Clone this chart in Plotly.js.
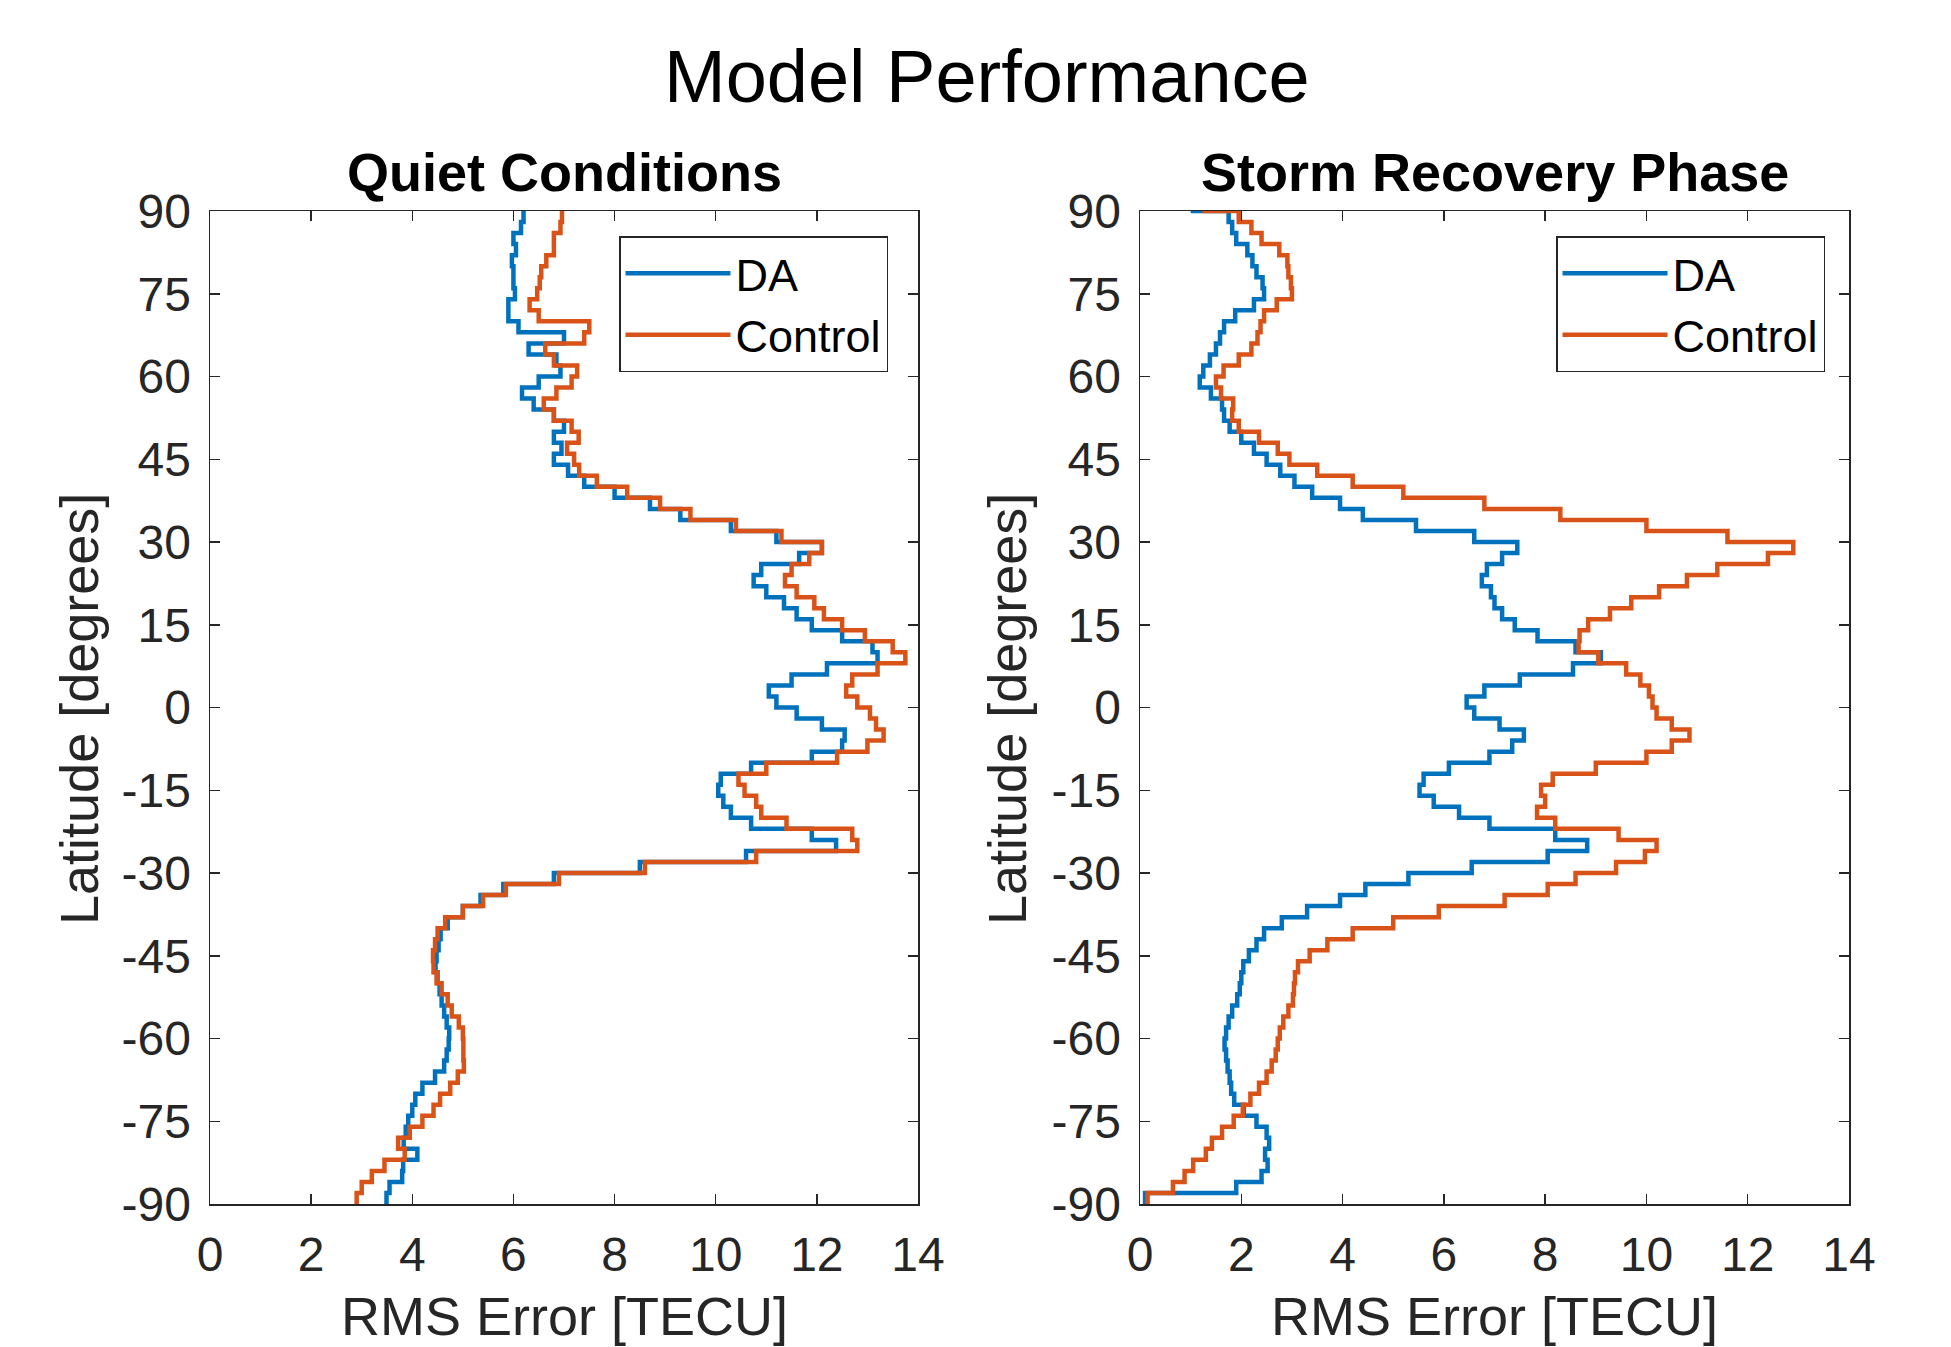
<!DOCTYPE html>
<html><head><meta charset="utf-8">
<script src="https://cdn.plot.ly/plotly-3.0.1.min.js"></script>
<style>html,body{margin:0;padding:0;background:#fff}</style>
</head><body>
<div id="chart" style="width:1951px;height:1347px"></div>
<script>
// Latitude grid (degrees), top edge first; each value holds over the 2-degree bin below the previous latitude
const latitude = [90, 88, 86, 84, 82, 80, 78, 76, 74, 72, 70, 68, 66, 64, 62, 60, 58, 56, 54, 52,
  50, 48, 46, 44, 42, 40, 38, 36, 34, 32, 30, 28, 26, 24, 22, 20, 18, 16, 14, 12,
  10, 8, 6, 4, 2, 0, -2, -4, -6, -8, -10, -12, -14, -16, -18, -20, -22, -24, -26, -28,
  -30, -32, -34, -36, -38, -40, -42, -44, -46, -48, -50, -52, -54, -56, -58, -60, -62, -64, -66, -68,
  -70, -72, -74, -76, -78, -80, -82, -84, -86, -88, -90];

// Quiet Conditions: RMS error [TECU]
const quietDA = [6.23,
  6.2, 6.15, 6.0, 6.05, 5.97, 6.0, 6.0, 6.03, 5.9, 5.9,
  6.1, 7.0, 6.3, 6.85, 6.93, 6.5, 6.17, 6.4, 6.8, 7.0,
  6.8, 6.95, 6.8, 7.08, 7.4, 8.0, 8.7, 9.3, 10.3, 11.2,
  12.1, 11.65, 10.9, 10.75, 11.0, 11.35, 11.6, 11.9, 12.5, 13.1,
  13.2, 12.2, 11.5, 11.05, 11.2, 11.6, 12.1, 12.55, 12.5, 11.9,
  10.7, 10.1, 10.05, 10.15, 10.3, 10.7, 11.9, 12.38, 10.6, 8.5,
  6.8, 5.8, 5.35, 5.0, 4.7, 4.56, 4.52, 4.48, 4.46, 4.5,
  4.54, 4.58, 4.63, 4.68, 4.73, 4.72, 4.68, 4.63, 4.45, 4.2,
  4.06, 4.0, 3.92, 3.87, 3.83, 4.1, 3.82, 3.8, 3.55, 3.49];
const quietControl = [6.96,
  6.96, 6.93, 6.8, 6.8, 6.65, 6.55, 6.52, 6.47, 6.32, 6.5,
  7.5, 7.4, 6.63, 6.8, 7.26, 7.15, 6.85, 6.6, 6.8, 7.15,
  7.29, 7.06, 7.2, 7.3, 7.65, 8.25, 8.9, 9.5, 10.4, 11.3,
  12.1, 11.85, 11.5, 11.37, 11.6, 11.95, 12.14, 12.5, 12.95, 13.5,
  13.75, 13.2, 12.7, 12.58, 12.8, 13.05, 13.17, 13.32, 13.0, 12.4,
  11.0, 10.45, 10.57, 10.8, 10.9, 11.4, 12.7, 12.8, 10.8, 8.6,
  6.9, 5.85, 5.4, 5.0, 4.65, 4.5, 4.45, 4.41, 4.42, 4.48,
  4.58, 4.7, 4.78, 4.92, 5.0, 5.01, 5.01, 5.02, 4.9, 4.75,
  4.55, 4.42, 4.2, 3.95, 3.72, 3.85, 3.45, 3.2, 3.0, 2.9];

// Storm Recovery Phase: RMS error [TECU]
const stormDA = [1.0,
  1.75, 1.82, 1.9, 2.12, 2.22, 2.3, 2.42, 2.45, 2.25, 1.88,
  1.66, 1.58, 1.5, 1.38, 1.25, 1.18, 1.4, 1.62, 1.66, 1.77,
  2.0, 2.25, 2.5, 2.77, 3.05, 3.4, 3.95, 4.4, 5.45, 6.6,
  7.45, 7.15, 6.85, 6.75, 6.93, 7.0, 7.15, 7.4, 7.85, 8.6,
  9.1, 8.55, 7.5, 6.8, 6.45, 6.6, 7.1, 7.58, 7.35, 6.9,
  6.1, 5.6, 5.52, 5.8, 6.3, 6.9, 8.2, 8.83, 8.05, 6.55,
  5.3, 4.45, 3.95, 3.3, 2.8, 2.45, 2.3, 2.15, 2.04, 2.0,
  1.97, 1.92, 1.82, 1.75, 1.7, 1.67, 1.7, 1.73, 1.77, 1.8,
  1.86, 2.05, 2.3, 2.5, 2.55, 2.47, 2.52, 2.4, 1.9, 0.1];
const stormControl = [1.23,
  1.95, 2.2, 2.4, 2.75, 2.91, 2.93, 2.98, 3.0, 2.7, 2.45,
  2.38, 2.32, 2.2, 1.95, 1.65, 1.5, 1.6, 1.84, 1.82, 1.95,
  2.35, 2.72, 2.95, 3.5, 4.2, 5.2, 6.8, 8.3, 10.0, 11.6,
  12.9, 12.4, 11.4, 10.8, 10.25, 9.7, 9.28, 8.85, 8.68, 8.66,
  9.05, 9.6, 9.88, 10.05, 10.12, 10.2, 10.5, 10.85, 10.5, 10.0,
  9.0, 8.15, 7.92, 8.0, 7.84, 8.2, 9.45, 10.2, 9.97, 9.4,
  8.6, 8.05, 7.2, 5.9, 5.0, 4.2, 3.7, 3.35, 3.12, 3.06,
  3.04, 3.02, 2.93, 2.83, 2.76, 2.72, 2.68, 2.6, 2.5, 2.35,
  2.18, 2.03, 1.85, 1.62, 1.42, 1.3, 1.05, 0.88, 0.65, 0.15];

const xTicks = [0, 2, 4, 6, 8, 10, 12, 14];
const xTickText = ['0', '2', '4', '6', '8', '10', '12', '14'];
const yTicks = [-90, -75, -60, -45, -30, -15, 0, 15, 30, 45, 60, 75, 90];
const yTickText = ['-90', '-75', '-60', '-45', '-30', '-15', '0', '15', '30', '45', '60', '75', '90'];
const seriesNames = ['DA', 'Control'];
const panelTitles = ['Quiet Conditions', 'Storm Recovery Phase'];
const mainTitle = 'Model Performance';
const xTitle = 'RMS Error [TECU]';
const yTitle = 'Latitude [degrees]';

const blue = '#0072BD', orange = '#D95319', axc = '#262626';
const FONT = 'Liberation Sans, Arial, Helvetica, sans-serif';

function mk(xv, name, color, xa, ya, lg) {
  return {x: xv, y: latitude, type: 'scatter', mode: 'lines', name: name,
    xaxis: xa, yaxis: ya, legend: lg,
    line: {color: color, width: 4.5, shape: 'hv'}, hoverinfo: 'skip'};
}
const data = [
  mk(quietDA, seriesNames[0], blue, 'x', 'y', 'legend'),
  mk(quietControl, seriesNames[1], orange, 'x', 'y', 'legend'),
  mk(stormDA, seriesNames[0], blue, 'x2', 'y2', 'legend2'),
  mk(stormControl, seriesNames[1], orange, 'x2', 'y2', 'legend2')
];

const W = 1951, H = 1347;
const common = {showline: true, linecolor: axc, linewidth: 1.5, mirror: 'ticks', ticks: 'inside',
  ticklen: 10, tickwidth: 1.5, tickcolor: axc, showgrid: false, zeroline: false,
  tickfont: {size: 48, color: axc, family: FONT}, fixedrange: true};
const yDom = [1 - 1204/H, 1 - 211/H];
const xDom1 = [210/W, 918/W], xDom2 = [1140/W, 1849/W];

function xa(dom, anchor) { return Object.assign({}, common, {domain: dom, anchor: anchor, range: [0, 14], tickvals: xTicks, ticktext: xTickText, ticklabelstandoff: 8}); }
function ya(anchor) { return Object.assign({}, common, {domain: yDom, anchor: anchor, range: [-90, 90], tickvals: yTicks, ticktext: yTickText, ticklabelstandoff: 8}); }

const c1 = (xDom1[0] + xDom1[1]) / 2, c2 = (xDom2[0] + xDom2[1]) / 2;
function ann(text, x, y, size, opts) {
  return Object.assign({text: text, x: x, y: y, xref: 'paper', yref: 'paper', showarrow: false,
    xanchor: 'center', yanchor: 'middle', font: {size: size, color: axc, family: FONT}}, opts || {});
}
const legendCommon = {y: 1 - 236/H, yanchor: 'top', xanchor: 'left', bgcolor: '#fff',
  bordercolor: axc, borderwidth: 1.5, font: {size: 45, color: '#000', family: FONT},
  itemwidth: 105, tracegroupgap: 0};

const layout = {
  width: W, height: H, margin: {l: 0, r: 0, t: 0, b: 0},
  paper_bgcolor: '#fff', plot_bgcolor: '#fff',
  font: {family: FONT, color: axc},
  xaxis: xa(xDom1, 'y'), yaxis: ya('x'),
  xaxis2: xa(xDom2, 'y2'), yaxis2: ya('x2'),
  showlegend: true,
  legend: Object.assign({}, legendCommon, {x: 619/W}),
  legend2: Object.assign({}, legendCommon, {x: 1556/W}),
  annotations: [
    ann(mainTitle, 987/W, 1 - 76/H, 74, {font: {size: 74, color: '#000', family: FONT}}),
    ann('<b>' + panelTitles[0] + '</b>', c1, 1 - 172/H, 54, {font: {size: 54, color: '#000', family: FONT}}),
    ann('<b>' + panelTitles[1] + '</b>', c2, 1 - 172/H, 54, {font: {size: 54, color: '#000', family: FONT}}),
    ann(xTitle, c1, 1 - 1316/H, 54),
    ann(xTitle, c2, 1 - 1316/H, 54),
    ann(yTitle, 79/W, 1 - 709/H, 54, {textangle: -90}),
    ann(yTitle, 1007/W, 1 - 709/H, 54, {textangle: -90})
  ]
};

Plotly.newPlot('chart', data, layout, {staticPlot: true, displayModeBar: false});
</script>
</body></html>
